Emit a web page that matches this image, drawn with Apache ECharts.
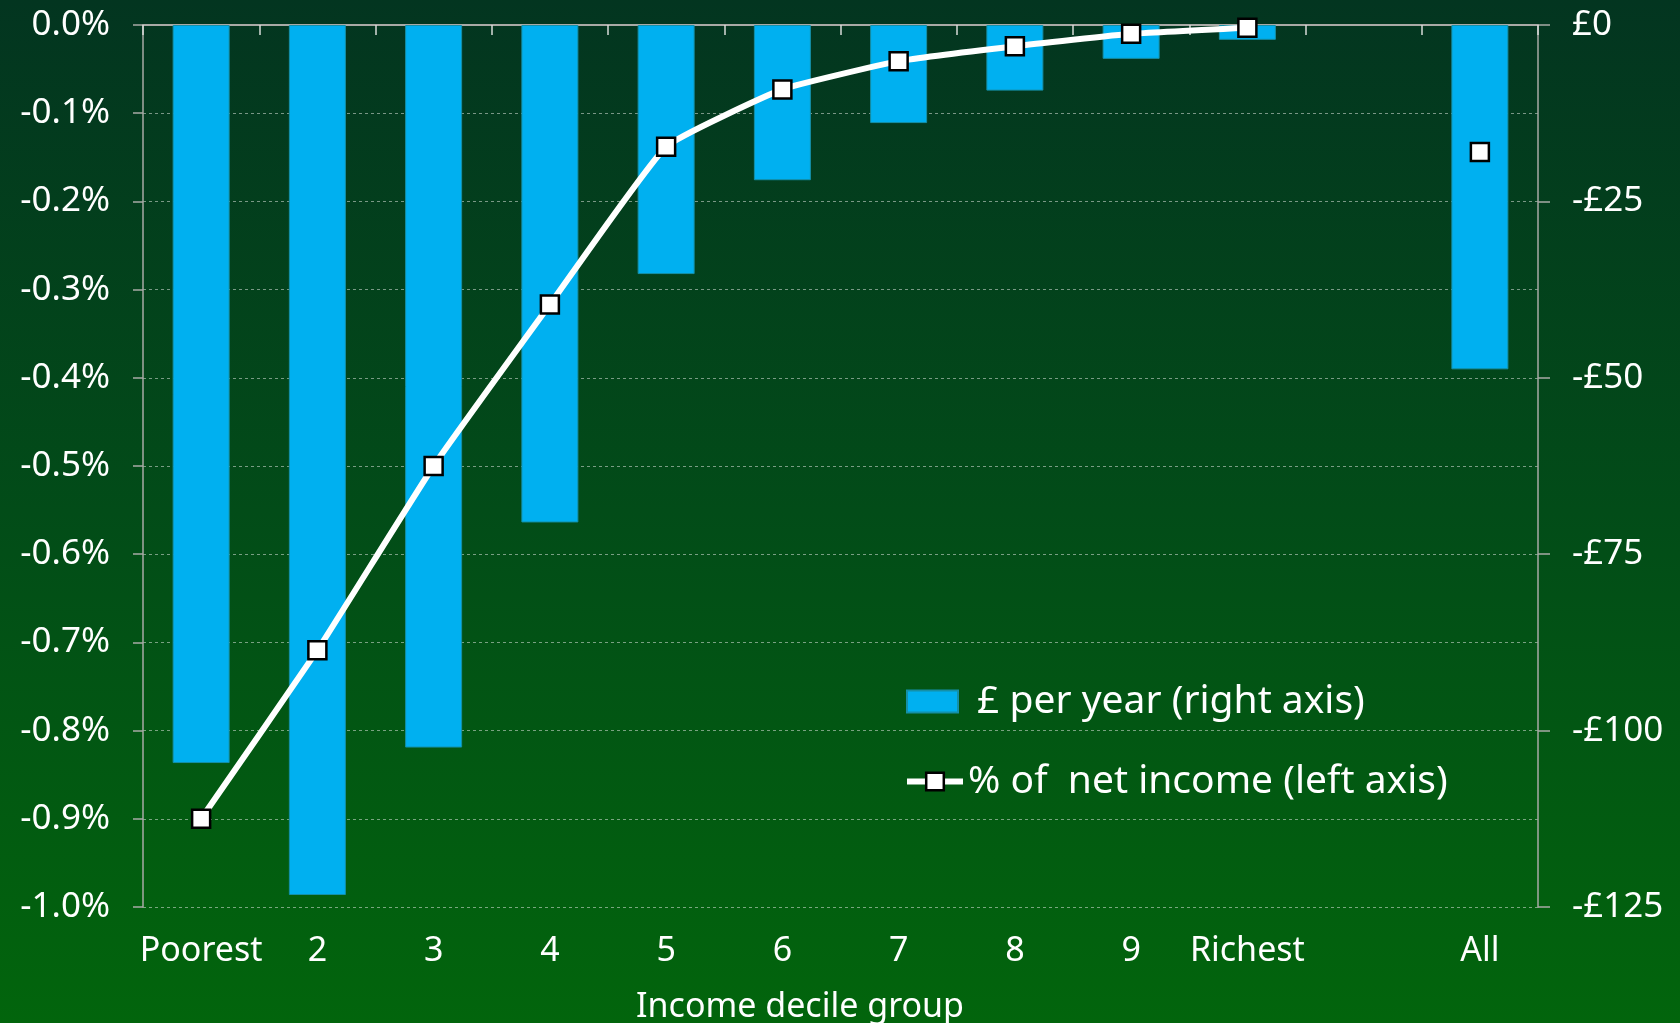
<!DOCTYPE html>
<html>
<head>
<meta charset="utf-8">
<script src="https://cdn.jsdelivr.net/npm/echarts@6/dist/echarts.min.js"></script>
<style>
  html, body { margin: 0; padding: 0; }
  #chart { width: 1680px; height: 1023px; background: linear-gradient(to bottom, #033520 0%, #024c18 50%, #02650c 100%); }
</style>
</head>
<body>
<div id="chart"></div>
<script>
const categories = ['Poorest', '2', '3', '4', '5', '6', '7', '8', '9', 'Richest', '', 'All'];
const poundsPerYear = [-104.6, -123.3, -102.4, -70.5, -35.3, -22.0, -13.9, -9.3, -4.8, -2.1, null, -48.8];
const pctNetIncome = [-0.900, -0.709, -0.500, -0.317, -0.138, -0.073, -0.041, -0.024, -0.010, -0.003, null, -0.144];
const leftTicks = { min: -1.0, max: 0, interval: 0.1 };
const rightTicks = { min: -125, max: 0, interval: 25 };
const barName = '£ per year (right axis)';
const lineName = '% of  net income (left axis)';
const xAxisTitle = 'Income decile group';

const FONT = 'Noto Sans';
const chart = echarts.init(document.getElementById('chart'));
const axisGrey = '#a9aaa6';
const option = {
  backgroundColor: 'transparent',
  textStyle: { fontFamily: FONT },
  grid: { left: 143, right: 142, top: 25, bottom: 116, containLabel: false, outerBoundsMode: 'none' },
  legend: [
    {
      data: [{ name: barName, icon: 'rect' }], orient: 'vertical', left: 906, top: 682, padding: 0,
      itemWidth: 51, itemHeight: 22,
      textStyle: { color: '#fff', fontSize: 39, fontFamily: FONT, padding: [0, 0, 0, 14] },
      selectedMode: false
    },
    {
      data: [lineName], orient: 'vertical', left: 904, top: 762, padding: 0,
      itemWidth: 56, itemHeight: 22,
      lineStyle: { width: 6, color: '#fff' },
      itemStyle: { color: '#fff', borderColor: '#000', borderWidth: 2.5 },
      textStyle: { color: '#fff', fontSize: 39, fontFamily: FONT, padding: [0, 0, 0, 0] },
      selectedMode: false
    }
  ],
  xAxis: [
    {
      type: 'category', position: 'bottom', data: categories,
      axisLine: { show: false }, axisTick: { show: false },
      axisLabel: { color: '#fff', fontSize: 34, fontFamily: FONT, margin: 27, interval: 0 }
    },
    {
      type: 'category', position: 'top', data: categories,
      axisLine: { show: true, onZero: false, lineStyle: { color: axisGrey, width: 2 } },
      axisTick: { show: true, inside: true, length: 10, interval: 0, lineStyle: { color: '#d8dcd8', width: 1.5 } },
      axisLabel: { show: false }
    }
  ],
  yAxis: [
    {
      type: 'value', position: 'left', min: leftTicks.min, max: leftTicks.max, interval: leftTicks.interval,
      axisLine: { show: true, lineStyle: { color: axisGrey, width: 1.5 } },
      axisTick: { show: true, length: 10, lineStyle: { color: axisGrey, width: 1.5 } },
      axisLabel: { color: '#fff', fontSize: 35, fontFamily: FONT, margin: 33,
        formatter: v => (Math.abs(v) < 1e-9 ? '0.0' : v.toFixed(1)) + '%' },
      splitLine: { show: true, lineStyle: { color: 'rgba(220,225,220,0.55)', width: 1, type: [3, 3] } }
    },
    {
      type: 'value', position: 'right', min: rightTicks.min, max: rightTicks.max, interval: rightTicks.interval,
      axisLine: { show: true, lineStyle: { color: axisGrey, width: 1.5 } },
      axisTick: { show: true, length: 12, lineStyle: { color: axisGrey, width: 1.5 } },
      axisLabel: { color: '#fff', fontSize: 35, fontFamily: FONT, margin: 34,
        formatter: v => (v === 0 ? '£0' : '-£' + Math.abs(v)) },
      splitLine: { show: false }
    }
  ],
  series: [
    {
      name: barName, type: 'bar', xAxisIndex: 0, yAxisIndex: 1, data: poundsPerYear,
      barWidth: 57,
      itemStyle: { color: '#00b0f0', borderColor: '#1590a8', borderWidth: 1 },
      z: 2
    },
    {
      name: lineName, type: 'line', xAxisIndex: 0, yAxisIndex: 0, data: pctNetIncome,
      smooth: 0.12, connectNulls: false, showAllSymbol: true,
      symbol: 'rect', symbolSize: 18,
      lineStyle: { color: '#fff', width: 6 },
      itemStyle: { color: '#fff', borderColor: '#000', borderWidth: 2.5 },
      z: 5
    }
  ],
  graphic: [
    { type: 'text', x: 800, y: 1007,
      style: { text: xAxisTitle, fill: '#fff', font: '34px "Noto Sans"', textAlign: 'center', textVerticalAlign: 'middle' } }
  ],
  animation: false
};
chart.setOption(option);
</script>
</body>
</html>
